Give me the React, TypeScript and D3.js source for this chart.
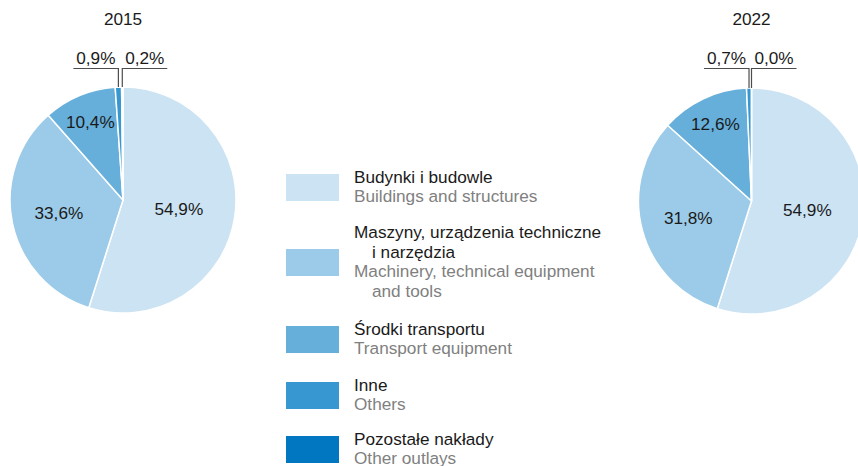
import React from "react";
import * as d3 from "d3";

// ---- data ----
const categoriesPL = ["Budynki i budowle", "Maszyny, urządzenia techniczne|i narzędzia", "Środki transportu", "Inne", "Pozostałe nakłady"];
const categoriesEN = ["Buildings and structures", "Machinery, technical equipment|and tools", "Transport equipment", "Others", "Other outlays"];
const years = ["2015", "2022"];
const values2015 = [54.9, 33.6, 10.4, 0.9, 0.2];
const values2022 = [54.9, 31.8, 12.6, 0.7, 0.0];
const seriesValues = [values2015, values2022];
const colors = ["#cce3f3", "#9bcbe8", "#66afdb", "#3797d1", "#0077c0"];

// ---- layout ----
const W = 858;
const H = 466;
const R = 113;
const pieCenters = [
  { x: 123, y: 200 },
  { x: 751.5, y: 201 },
];
const labelRadiusFactor = [0.5, 0.58, 0.75];
const calloutY = 68.5;
const calloutLen = 45;
const FONT = "'Liberation Sans', Arial, Helvetica, sans-serif";
const FS = 17.2;
const legendX = 286;
const legendSwW = 53;
const legendSwH = 27;
const legendTextX = 354;
const legendIndent = 18;
const legendCenters = [187.5, 262.5, 339.5, 395.5, 449.5];
const legendLH = 19.5;

const fmt = (v: number) => v.toFixed(1).replace(".", ",") + "%";

function Pie({ values, cx, cy, title }: { values: number[]; cx: number; cy: number; title: string }) {
  const pie = d3.pie<number>().sort(null).value((d) => d).startAngle(0).endAngle(2 * Math.PI);
  const arcs = pie(values);
  const arc = d3.arc<d3.PieArcDatum<number>>().innerRadius(0).outerRadius(R);
  return (
    <g>
      <text x={cx} y={25} textAnchor="middle" fontFamily={FONT} fontSize={FS} fill="#1a1a1a">
        {title}
      </text>
      <g transform={`translate(${cx},${cy})`}>
        {arcs.map((a, i) => (
          <path key={i} d={arc(a) || ""} fill={colors[i]} stroke="#ffffff" strokeWidth={1.5} strokeLinejoin="round" />
        ))}
        {arcs.slice(0, 3).map((a, i) => {
          const mid = (a.startAngle + a.endAngle) / 2;
          const r = R * labelRadiusFactor[i];
          return (
            <text
              key={"l" + i}
              x={Math.sin(mid) * r}
              y={-Math.cos(mid) * r}
              textAnchor="middle"
              dominantBaseline="central"
              fontFamily={FONT}
              fontSize={FS}
              fill="#1a1a1a"
            >
              {fmt(a.data)}
            </text>
          );
        })}
      </g>
      {arcs.slice(3).map((a, j) => {
        const mid = (a.startAngle + a.endAngle) / 2;
        const px = cx + Math.sin(mid) * R;
        const py = cy - Math.cos(mid) * R;
        const dir = j === 0 ? -1 : 1;
        const ex = px + dir * calloutLen;
        return (
          <g key={"c" + j}>
            <path
              d={`M${px},${py}L${px},${calloutY}L${ex},${calloutY}`}
              fill="none"
              stroke="#4d4d4d"
              strokeWidth={1.2}
            />
            <text x={(px + ex) / 2} y={calloutY - 5} textAnchor="middle" fontFamily={FONT} fontSize={FS} fill="#1a1a1a">
              {fmt(a.data)}
            </text>
          </g>
        );
      })}
    </g>
  );
}

function Legend() {
  return (
    <g>
      {categoriesPL.map((pl, i) => {
        const plLines = pl.split("|");
        const enLines = categoriesEN[i].split("|");
        const lines = [
          ...plLines.map((t, k) => ({ t, pl: true, indent: k > 0 })),
          ...enLines.map((t, k) => ({ t, pl: false, indent: k > 0 })),
        ];
        const c = legendCenters[i];
        const first = c - ((lines.length - 1) * legendLH) / 2 + 5;
        return (
          <g key={i}>
            <rect x={legendX} y={c - legendSwH / 2} width={legendSwW} height={legendSwH} fill={colors[i]} />
            {lines.map((ln, k) => (
              <text
                key={k}
                x={legendTextX + (ln.indent ? legendIndent : 0)}
                y={first + k * legendLH}
                fontFamily={FONT}
                fontSize={FS}
                fill={ln.pl ? "#1a1a1a" : "#808080"}
              >
                {ln.t}
              </text>
            ))}
          </g>
        );
      })}
    </g>
  );
}

export default function App() {
  return (
    <svg width={W} height={H} style={{ position: "absolute", left: 0, top: 0, background: "#ffffff" }}>
      {years.map((y, i) => (
        <Pie key={y} values={seriesValues[i]} cx={pieCenters[i].x} cy={pieCenters[i].y} title={y} />
      ))}
      <Legend />
    </svg>
  );
}
